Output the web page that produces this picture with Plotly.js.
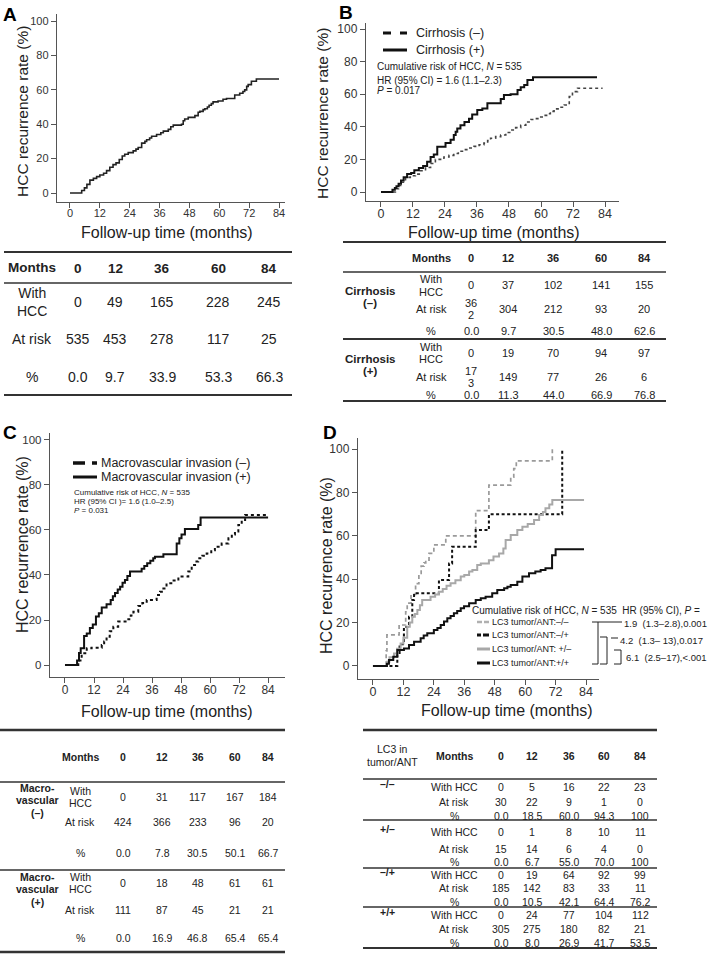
<!DOCTYPE html>
<html><head><meta charset="utf-8">
<script src="https://cdn.plot.ly/plotly-3.0.1.min.js"></script>
<style>html,body{margin:0;padding:0;background:#fff;}#chart{width:708px;height:954px;}</style>
</head><body><div id="chart"></div>
<script>
// ================= DATA =================
const xTickVals = [0,12,24,36,48,60,72,84];
const yTickVals = [0,20,40,60,80,100];
const axisTitleX = 'Follow-up time (months)';
const axisTitleY = 'HCC recurrence rate (%)';

// Panel A: overall
const monthsA = [0,4.7,5.8,6.8,8,9.4,10.7,12,13.5,14.7,16,17.3,18.5,19.8,21,22,23.4,25.4,26.5,27.4,28.8,30.1,30.8,32,32.8,34.8,36.5,37.5,39.5,40.5,41.5,44.8,45.5,46.1,47.5,50.2,51.5,52.2,53.5,54.2,55.2,55.9,56.8,57.5,59.5,61.5,62.9,66.2,68.2,69.5,70.2,71,71.6,72.9,74.9,84];
const rateA   = [0,1.5,3,5,7.5,8.5,9.5,10.5,11.5,13,15,16.5,17.5,19.5,21.5,22.5,23.5,24.5,25.5,26.5,29,30,31,32,33,34,35,36,37,38.5,39.5,40,42,43,44,45,47,47.5,48.5,49,50,51,52,53,53.5,54.5,55,57,58,59,60,62,63,65,66.3,66.3];

// Panel B: cirrhosis
const monthsBneg = [0,5.4,6.6,7.9,9.2,11,12.9,14.8,16.7,18.6,20.4,23.6,25.5,27.3,29,31.1,33,34.9,36.8,38.6,40,41.1,43,44.9,46.8,48.6,50.5,52.4,54.3,56.2,58,59.9,61,62.4,63.5,64.9,66.8,68.7,70.6,71.8,73.7,83.1];
const rateBneg   = [0,2,4,6,9,10,11,13,15,17.5,20,21.5,22.5,23.6,25,26,27,28,29,30,31.5,33,34,35,36.5,38,39.5,41,43,44.5,45,46,47,48,49.5,51,52,53.4,58.5,61.6,63.7,63.7];
const monthsBpos = [0,4.3,5.2,5.8,6.6,7.5,8.5,9.8,11.3,12.5,14.2,15.8,17.3,18.6,19.8,21.1,24.2,26.1,27.3,28,28.6,29.8,31.3,33,34.2,36.1,38,39.9,44.9,46.1,48.6,51.2,52.4,53.7,54.9,57,81];
const rateBpos   = [0,1.4,2.5,3.5,5,7,9,11,11.7,13.3,14.8,16,18.5,21.5,23,27.7,30,32,35,37,39,41,43,45,47.6,50.3,51.3,54.4,57,59.5,60,62.6,64.3,65.7,68.8,70.4,70.4];

// Panel C: macrovascular invasion
const monthsCneg = [0,5.5,6.9,9,11,15.2,16.2,17.2,18.5,20,22,26.2,27.2,28.3,30.3,32,33.8,37.9,39.3,40.7,42,44.5,46.9,51,52.4,53.8,55.1,56.8,58.6,60.5,62,64.8,67.6,69,70.3,71.7,73.1,74.5,84];
const rateCneg   = [0,2,5.2,7.4,7.7,8.9,10.5,12.6,15,17,19.3,20.3,22,23.7,26.2,27.5,28.9,31.1,32.5,34,36.3,37.5,39.3,41.5,44.4,46,47.4,48.5,49.6,51,52.6,54,56.3,58,59.3,62.2,64.4,66.7,66.7];
const monthsCpos = [0,5,5.8,6.5,7.9,9,10.3,11.5,12.8,14,15.2,17.2,18.9,19.8,20.7,21.8,22.8,23.8,24.8,25.8,26.9,31.7,32.8,34,35.3,36.5,37.2,40.7,46.2,47.3,48.2,49.6,55.1,56.1,84];
const rateCpos   = [0,2,5.3,7.5,12.9,14,16.4,18,21.5,23,25.6,27,28.9,30.5,32,33.5,34.8,36.5,37.8,39.5,41.5,42.8,44,45.2,46.3,47.4,48.1,49.2,54,56.3,58,60.4,62.2,65.5,65.5];

// Panel D: LC3 tumor/ANT
const monthsDnn = [0,5.2,5.5,10.3,12.9,13.5,15,16.8,18.1,19,20.1,20.8,22.1,24,28.7,40.5,45.7,54.3,55.5,56.5,70.7];
const rateDnn   = [0,7,14.3,18.9,25,29,33,38,42.7,46,47.5,48.8,51.9,55.8,60,71.6,83.4,87,91,94.6,100];
const monthsDnp = [0,9.6,10.5,12.2,14.2,15.5,16.2,26,30,31.2,40.5,45.7,74.6];
const rateDnp   = [0,5,10,18,22.7,30.4,33.5,39.6,47.3,55,62.7,70,100];
const monthsDpn = [0,5.5,6.5,8.3,9.5,10.9,12,13.5,14.5,15.5,16.5,17.5,18.5,19.4,22.7,24.5,26,27.5,29,30.6,32.5,34.6,36,37.9,39.2,41.1,42.5,45.7,47.5,49.7,51.4,52.3,54.3,56.9,58.9,61,63.5,65.5,67,68,69.5,70.7,83.2];
const rateDpn   = [0,2,4,5.8,8,10.4,13,18.1,20,22.7,24,25.8,28,30.4,31.9,33,34.2,35.5,37,38.1,39.5,41.2,42,43.5,44.2,46.5,47.3,48.8,50.5,51.9,54.2,58.1,60.4,62.7,64.2,65.5,67.3,69.6,71,72.7,74.5,76.5,76.5];
const monthsDpp = [0,5.5,6.3,8,9.6,12.2,14.2,16.2,18.8,20,21.4,24,25.4,26.7,28,29.3,30.6,31.9,33.2,34.6,35.9,37.9,40.5,42.5,44.4,47,49,51.7,53,54.3,56.9,58.9,61.5,64,66.1,68,70.6,72,83.2];
const rateDpp   = [0,1,2.8,4.3,7.4,8.1,9.7,11.2,12.8,14,15.1,16.6,17.5,18.9,20.5,22,23,24.3,25.3,26.6,27.5,28.9,30.4,31.2,31.9,33.5,35,35.8,36.5,37.3,38.8,41.2,42.7,43.5,44.2,45,51,53.8,53.8];

// Tables
const tableMonths = ['0','12','36','60','84'];
const tabA_with = [0,49,165,228,245];
const tabA_risk = [535,453,278,117,25];
const tabA_pct  = ['0.0','9.7','33.9','53.3','66.3'];

const tabB_groups = ['Cirrhosis\n(–)','Cirrhosis\n(+)'];
const tabB_with = [[0,37,102,141,155],[0,19,70,94,97]];
const tabB_risk = [['36\n2',304,212,93,20],['17\n3',149,77,26,6]];
const tabB_pct  = [['0.0','9.7','30.5','48.0','62.6'],['0.0','11.3','44.0','66.9','76.8']];

const tabC_groups = ['Macro-\nvascular\n(–)','Macro-\nvascular\n(+)'];
const tabC_with = [[0,31,117,167,184],[0,18,48,61,61]];
const tabC_risk = [[424,366,233,96,20],[111,87,45,21,21]];
const tabC_pct  = [['0.0','7.8','30.5','50.1','66.7'],['0.0','16.9','46.8','65.4','65.4']];

const tabD_groups = ['–/–','+/–','–/+','+/+'];
const tabD_with = [[0,5,16,22,23],[0,1,8,10,11],[0,19,64,92,99],[0,24,77,104,112]];
const tabD_risk = [[30,22,9,1,0],[15,14,6,4,0],[185,142,83,33,11],[305,275,180,82,21]];
const tabD_pct  = [['0.0','18.5','60.0','94.3','100'],['0.0','6.7','55.0','70.0','100'],['0.0','10.5','42.1','64.4','76.2'],['0.0','8.0','26.9','41.7','53.5']];

const legB = ['Cirrhosis (–)','Cirrhosis (+)'];
const infoB = ['Cumulative risk of HCC, <i>N</i> = 535','HR (95% CI) = 1.6 (1.1–2.3)','<i>P</i> = 0.017'];
const legC = ['Macrovascular invasion (–)','Macrovascular invasion (+)'];
const infoC = ['Cumulative risk of HCC, <i>N</i> = 535','HR (95% CI )= 1.6 (1.0–2.5)','<i>P</i> = 0.031'];
const legDHead = 'Cumulative risk of HCC, <i>N</i> = 535\u00a0\u00a0HR (95% CI), <i>P</i> =';
const legD = ['LC3 tumor/ANT:–/–','LC3 tumor/ANT:–/+','LC3 tumor/ANT: +/–','LC3 tumor/ANT:+/+'];
const hrD = ['1.9\u00a0\u00a0(1.3–2.8),0.001','4.2\u00a0\u00a0(1.3– 13),0.017','6.1\u00a0\u00a0(2.5–17),&lt;.001'];

// ================= RENDER =================
const W=708, H=954;
const FONT='"Liberation Sans", Arial, Helvetica, sans-serif';
const ann=[], shapes=[];
function T(text,x,y,o={}){
  ann.push({xref:'paper',yref:'paper',x:x/W,y:1-y/H,text:String(text),showarrow:false,
    xanchor:o.anchor||'center',yanchor:'middle',textangle:o.angle||0,borderpad:0,
    font:{family:FONT,size:o.size||12,color:o.color||'#222'}});
}
function ML(lines,x,y,lh,o){const n=lines.length;lines.forEach((t,i)=>T(t,x,y+(i-(n-1)/2)*lh,o));}
function L(x0,y0,x1,y1,o={}){
  shapes.push({type:'line',xref:'paper',yref:'paper',x0:x0/W,x1:x1/W,y0:1-y0/H,y1:1-y1/H,
    line:{color:o.color||'#333',width:o.width||1,dash:o.dash||'solid'}});
}
function cell(v,x,y,size,lh,bold){
  const parts=String(v).split('\n').map(s=>bold?'<b>'+s+'</b>':s);
  ML(parts,x,y,lh,{size});
}

function mkX(d0,d1,range,anchor,fs){
  return {domain:[d0/W,d1/W],range,anchor,tickmode:'array',tickvals:xTickVals,ticktext:xTickVals.map(String),
    ticks:'outside',ticklen:5,tickwidth:1,tickcolor:'#555',showline:true,linecolor:'#555',linewidth:1.2,
    ticklabelstandoff:-4,
    showgrid:false,zeroline:false,tickfont:{family:FONT,size:fs,color:'#333'},fixedrange:true,automargin:false};
}
function mkY(top,bot,range,anchor,fs){
  return {domain:[1-bot/H,1-top/H],range,anchor,tickmode:'array',tickvals:yTickVals,ticktext:yTickVals.map(String),
    ticks:'outside',ticklen:5,tickwidth:1,tickcolor:'#555',showline:true,linecolor:'#555',linewidth:1.2,
    showgrid:false,zeroline:false,tickfont:{family:FONT,size:fs,color:'#333'},fixedrange:true,automargin:false};
}
function curve(xs,ys,ax,line){
  return {x:xs,y:ys,xaxis:'x'+ax,yaxis:'y'+ax,mode:'lines',type:'scatter',
    line:Object.assign({shape:'hv'},line),hoverinfo:'skip',showlegend:false};
}

const traces=[
  curve(monthsA,rateA,'',{color:'#222',width:1.6}),
  curve(monthsBneg,rateBneg,'2',{color:'#444',width:1.6,dash:'dot'}),
  curve(monthsBpos,rateBpos,'2',{color:'#111',width:2}),
  curve(monthsCneg,rateCneg,'3',{color:'#111',width:2,dash:'dot'}),
  curve(monthsCpos,rateCpos,'3',{color:'#111',width:2}),
  curve(monthsDnn,rateDnn,'4',{color:'#9a9a9a',width:1.7,dash:'4px,3px'}),
  curve(monthsDnp,rateDnp,'4',{color:'#111',width:2,dash:'3px,2.5px'}),
  curve(monthsDpn,rateDpn,'4',{color:'#a8a8a8',width:2}),
  curve(monthsDpp,rateDpp,'4',{color:'#111',width:2})
];

// Panel letters
T('<b>A</b>',10,14,{size:19,color:'#000'});
T('<b>B</b>',346,13,{size:19,color:'#000'});
T('<b>C</b>',10,432,{size:19,color:'#000'});
T('<b>D</b>',330,432,{size:19,color:'#000'});

// Axis titles
T(axisTitleY,22,112,{size:15.5,angle:-90});
T(axisTitleY,323,114,{size:15.5,angle:-90});
T(axisTitleY,22,545,{size:16,angle:-90});
T(axisTitleY,326,566,{size:16,angle:-90});
T(axisTitleX,167,232,{size:16});
T(axisTitleX,494,233,{size:16});
T(axisTitleX,167,711,{size:16});
T(axisTitleX,507,710,{size:16});

// Legend B
L(383,33,391,33,{width:3,color:'#111'}); L(400,33,407,33,{width:3,color:'#111'});
L(383,50,407,50,{width:3,color:'#111'});
T(legB[0],415,33,{size:12.5,anchor:'left'});
T(legB[1],415,50,{size:12.5,anchor:'left'});
infoB.forEach((t,i)=>T(t,376,[67,80,91][i],{size:10,anchor:'left'}));

// Legend C
L(73,463,85,463,{width:3.5,color:'#111'}); L(92,463,97,463,{width:3.5,color:'#111'});
L(73,477,97,477,{width:3,color:'#111'});
T(legC[0],100,463,{size:12.5,anchor:'left'});
T(legC[1],100,477,{size:12.5,anchor:'left'});
infoC.forEach((t,i)=>T(t,73,[492,502,511][i],{size:8,anchor:'left'}));

// Legend D
T(legDHead,471,610,{size:10,anchor:'left'});
const dRows=[622,635,649,663];
L(477,dRows[0],482,dRows[0],{width:2.5,color:'#b0b0b0'}); L(484,dRows[0],489,dRows[0],{width:2.5,color:'#b0b0b0'});
L(477,dRows[1],481,dRows[1],{width:3,color:'#111'}); L(483,dRows[1],489,dRows[1],{width:3,color:'#111'});
L(477,dRows[2],490,dRows[2],{width:3,color:'#a8a8a8'});
L(477,dRows[3],490,dRows[3],{width:3,color:'#111'});
legD.forEach((t,i)=>T(t,491,dRows[i],{size:9,anchor:'left'}));
// brackets
L(592,622,622,622,{width:1,color:'#222'}); L(598,622,598,664,{width:1,color:'#222'}); L(592,664,598,664,{width:1,color:'#222'});
L(600,637,607,637,{width:1,color:'#222'}); L(607,637,607,664,{width:1,color:'#222'}); L(600,664,607,664,{width:1,color:'#222'});
L(611,638,618,638,{width:1,color:'#222'});
L(614,650,621,650,{width:1,color:'#222'}); L(621,650,621,664,{width:1,color:'#222'}); L(614,664,621,664,{width:1,color:'#222'});
T(hrD[0],623,623,{size:9.5,anchor:'left'});
T(hrD[1],619,640,{size:9.5,anchor:'left'});
T(hrD[2],625,657,{size:9.5,anchor:'left'});

// ---------- Table A ----------
(function(){
  const cols=[78,115,162,218,269], lx=32, fs=14;
  L(4,252,292,252,{width:2}); L(4,283,292,283,{width:1.5}); L(4,395,292,395,{width:2});
  T('<b>Months</b>',lx,267,{size:13.5});
  tableMonths.forEach((m,i)=>T('<b>'+m+'</b>',cols[i],268,{size:13.5}));
  T('With<br>HCC',lx,302,{size:fs});
  tabA_with.forEach((v,i)=>T(v,cols[i],302,{size:fs}));
  T('At risk',lx,339,{size:fs});
  tabA_risk.forEach((v,i)=>T(v,cols[i],339,{size:fs}));
  T('%',lx,377,{size:fs});
  tabA_pct.forEach((v,i)=>T(v,cols[i],377,{size:fs}));
})();

// ---------- Table B ----------
(function(){
  const cols=[471,508,553,601,644], lx=431, gx=370, fs=11;
  L(343,242,666,242,{width:2}); L(343,272,666,272,{width:1.5}); L(343,339,666,339,{width:1.8}); L(343,401,666,401,{width:2});
  T('<b>Months</b>',lx,258,{size:fs});
  tableMonths.forEach((m,i)=>T('<b>'+m+'</b>',cols[i],258,{size:fs}));
  const gy=[{g:297,w:285,r:309,p:331},{g:365,w:353,r:377,p:395}];
  gy.forEach((Y,k)=>{
    cell(tabB_groups[k],gx,Y.g,11.5,12,true);
    ML(['With','HCC'],lx,Y.w,13,{size:fs});
    tabB_with[k].forEach((v,i)=>T(v,cols[i],Y.w,{size:fs}));
    T('At risk',lx,Y.r,{size:fs});
    tabB_risk[k].forEach((v,i)=>cell(v,cols[i],Y.r,fs,12,false));
    T('%',lx,Y.p,{size:fs});
    tabB_pct[k].forEach((v,i)=>T(v,cols[i],Y.p,{size:fs}));
  });
})();

// ---------- Table C ----------
(function(){
  const cols=[123,162,198,235,268], lx=80, gx=37, fs=10.5;
  L(0,730,285,730,{width:2.5}); L(0,782,285,782,{width:1.5}); L(0,870,285,870,{width:1.5}); L(0,952,285,952,{width:2.5});
  T('<b>Months</b>',lx,757,{size:fs});
  tableMonths.forEach((m,i)=>T('<b>'+m+'</b>',cols[i],757,{size:fs}));
  const gy=[{g:800,w:797,r:822,p:853},{g:889,w:883,r:910,p:938}];
  gy.forEach((Y,k)=>{
    cell(tabC_groups[k],gx,Y.g,10.5,12.5,true);
    ML(['With','HCC'],lx,Y.w,12.5,{size:fs});
    tabC_with[k].forEach((v,i)=>T(v,cols[i],Y.w,{size:fs}));
    T('At risk',lx,Y.r,{size:fs});
    tabC_risk[k].forEach((v,i)=>T(v,cols[i],Y.r,{size:fs}));
    T('%',lx,Y.p,{size:fs});
    tabC_pct[k].forEach((v,i)=>T(v,cols[i],Y.p,{size:fs}));
  });
})();

// ---------- Table D ----------
(function(){
  const cols=[501,532,569,604,640], lx=454, gx=387, fs=10.5;
  L(363,730,657,730,{width:2.5});
  [779,820,868,907].forEach(y=>L(363,y,657,y,{width:1.5}));
  L(363,948,657,948,{width:2});
  ML(['LC3 in','tumor/ANT'],392,755,13,{size:fs});
  T('<b>Months</b>',lx,756,{size:fs});
  tableMonths.forEach((m,i)=>T('<b>'+m+'</b>',cols[i],756,{size:fs}));
  const gy=[{g:784,w:787,r:802,p:816},{g:829,w:832,r:849,p:862},{g:872,w:875,r:888,p:902},{g:912,w:915,r:929,p:943}];
  gy.forEach((Y,k)=>{
    T('<b>'+tabD_groups[k]+'</b>',gx,Y.g,{size:fs});
    T('With HCC',lx,Y.w,{size:fs});
    tabD_with[k].forEach((v,i)=>T(v,cols[i],Y.w,{size:fs}));
    T('At risk',lx,Y.r,{size:fs});
    tabD_risk[k].forEach((v,i)=>T(v,cols[i],Y.r,{size:fs}));
    T('%',lx,Y.p,{size:fs});
    tabD_pct[k].forEach((v,i)=>T(v,cols[i],Y.p,{size:fs}));
  });
})();

const layout={
  width:W,height:H,autosize:false,margin:{l:0,r:0,t:0,b:0},
  paper_bgcolor:'#fff',plot_bgcolor:'rgba(0,0,0,0)',showlegend:false,
  font:{family:FONT,color:'#222'},
  xaxis: mkX(57,285,[-5.22,86.4],'y',11),
  yaxis: mkY(14,202,[-5.23,104.1],'x',11),
  xaxis2:mkX(366,619,[-5.62,89.25],'y2',12.5),
  yaxis2:mkY(23,201,[-5.52,103.7],'x2',12),
  xaxis3:mkX(50,285,[-6.2,91.0],'y3',12),
  yaxis3:mkY(433,677,[-5.33,103.1],'x3',11.5),
  xaxis4:mkX(358,599,[-5.9,89.1],'y4',12.5),
  yaxis4:mkY(438,679,[-6.0,105.1],'x4',12),
  annotations:ann,shapes:shapes
};
Plotly.newPlot('chart',traces,layout,{staticPlot:true,displayModeBar:false});
</script>
</body></html>
